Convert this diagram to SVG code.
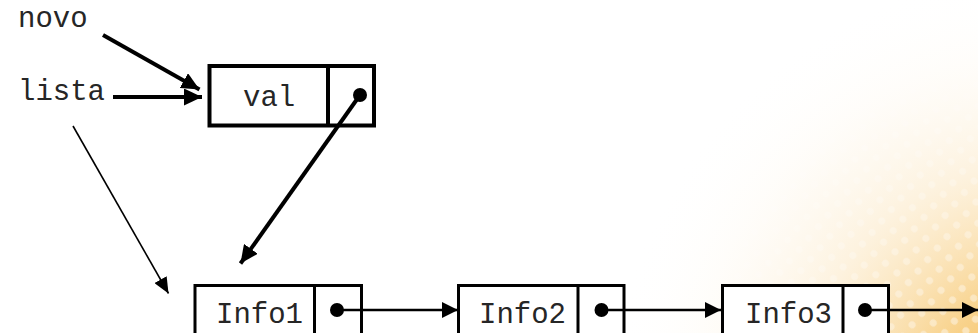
<svg xmlns="http://www.w3.org/2000/svg" width="978" height="333" viewBox="0 0 978 333">
  <defs>
    <style>
      .lbl { font-family: "Liberation Mono", "Courier New", monospace; font-size: 29px; fill: #262626; }
      .box { fill: #ffffff; stroke: #000000; stroke-width: 3; }
      .box-thick { fill: #ffffff; stroke: #000000; stroke-width: 4; }
      .ptr { fill: #000000; }
      .link { stroke: #000000; fill: none; }
    </style>
    <marker id="head" viewBox="0 0 16 16" refX="16" refY="8" markerWidth="16" markerHeight="16" markerUnits="userSpaceOnUse" orient="auto">
      <path d="M0,0 L16,8 L0,16 z" fill="#000"/>
    </marker>
    <marker id="head-big" viewBox="0 0 18 17" refX="18" refY="8.5" markerWidth="18" markerHeight="17" markerUnits="userSpaceOnUse" orient="auto">
      <path d="M0,0 L18,8.5 L0,17 z" fill="#000"/>
    </marker>
    <marker id="head-thin" viewBox="0 0 16 14" refX="16" refY="7" markerWidth="16" markerHeight="14" markerUnits="userSpaceOnUse" orient="auto">
      <path d="M0,0 L16,7 L0,14 z" fill="#000"/>
    </marker>
    <!-- warm corner glow -->
    <radialGradient id="glow" cx="1040" cy="400" r="430" gradientUnits="userSpaceOnUse">
      <stop offset="0" stop-color="#f2ae3a" stop-opacity="0.95"/>
      <stop offset="0.25" stop-color="#f6c364" stop-opacity="0.75"/>
      <stop offset="0.55" stop-color="#fadfae" stop-opacity="0.4"/>
      <stop offset="0.8" stop-color="#fdf1dc" stop-opacity="0.15"/>
      <stop offset="1" stop-color="#ffffff" stop-opacity="0"/>
    </radialGradient>
    <radialGradient id="fade" cx="1000" cy="360" r="380" gradientUnits="userSpaceOnUse">
      <stop offset="0" stop-color="#fff" stop-opacity="1"/>
      <stop offset="1" stop-color="#fff" stop-opacity="0"/>
    </radialGradient>
    <mask id="dotmask">
      <rect width="978" height="333" fill="url(#fade)"/>
    </mask>
    <pattern id="dots" width="15" height="15" patternUnits="userSpaceOnUse" patternTransform="rotate(40)">
      <circle cx="7.5" cy="7.5" r="3.6" fill="#ffffff" fill-opacity="0.5"/>
    </pattern>
  </defs>

  <!-- background -->
  <rect width="978" height="333" fill="#ffffff"/>
  <rect width="978" height="333" fill="url(#glow)"/>
  <rect width="978" height="333" fill="url(#dots)" mask="url(#dotmask)"/>

  <!-- labels -->
  <text class="lbl" x="18" y="27">novo</text>
  <text class="lbl" x="18" y="100">lista</text>

  <!-- new node -->
  <g id="node-val">
    <rect class="box-thick" x="209.5" y="66" width="164.5" height="59.5"/>
    <line x1="328" y1="66" x2="328" y2="125.5" stroke="#000" stroke-width="4"/>
    <text class="lbl" x="243" y="106">val</text>
    <circle class="ptr" cx="360" cy="95" r="7"/>
  </g>

  <!-- list nodes -->
  <g id="node-info1">
    <rect class="box" x="195" y="285.5" width="166.5" height="60"/>
    <line x1="314.5" y1="285.5" x2="314.5" y2="345" stroke="#000" stroke-width="3"/>
    <text class="lbl" x="216" y="323">Info1</text>
    <circle class="ptr" cx="337" cy="310" r="7"/>
  </g>
  <g id="node-info2">
    <rect class="box" x="458.5" y="285.5" width="165.5" height="60"/>
    <line x1="578" y1="285.5" x2="578" y2="345" stroke="#000" stroke-width="3"/>
    <text class="lbl" x="479" y="323">Info2</text>
    <circle class="ptr" cx="601.5" cy="310" r="7"/>
  </g>
  <g id="node-info3">
    <rect class="box" x="722.5" y="285.5" width="166" height="60"/>
    <line x1="843" y1="285.5" x2="843" y2="345" stroke="#000" stroke-width="3"/>
    <text class="lbl" x="745" y="323">Info3</text>
    <circle class="ptr" cx="865" cy="310" r="7"/>
  </g>

  <!-- connectors -->
  <g id="connectors">
    <line class="link" x1="103" y1="35" x2="199.5" y2="89.5" stroke-width="4" marker-end="url(#head-big)"/>
    <line class="link" x1="113" y1="97" x2="202" y2="97" stroke-width="4" marker-end="url(#head-big)"/>
    <line class="link" x1="73" y1="126" x2="168.5" y2="293.5" stroke-width="1.6" marker-end="url(#head-thin)"/>
    <line class="link" x1="360" y1="95" x2="240.5" y2="263.5" stroke-width="4" marker-end="url(#head-big)"/>
    <line class="link" x1="337" y1="310" x2="458" y2="310" stroke-width="2.5" marker-end="url(#head)"/>
    <line class="link" x1="601.5" y1="310" x2="721" y2="310" stroke-width="2.5" marker-end="url(#head)"/>
    <line class="link" x1="865" y1="310" x2="978" y2="310" stroke-width="2.5" marker-end="url(#head)"/>
  </g>
</svg>
